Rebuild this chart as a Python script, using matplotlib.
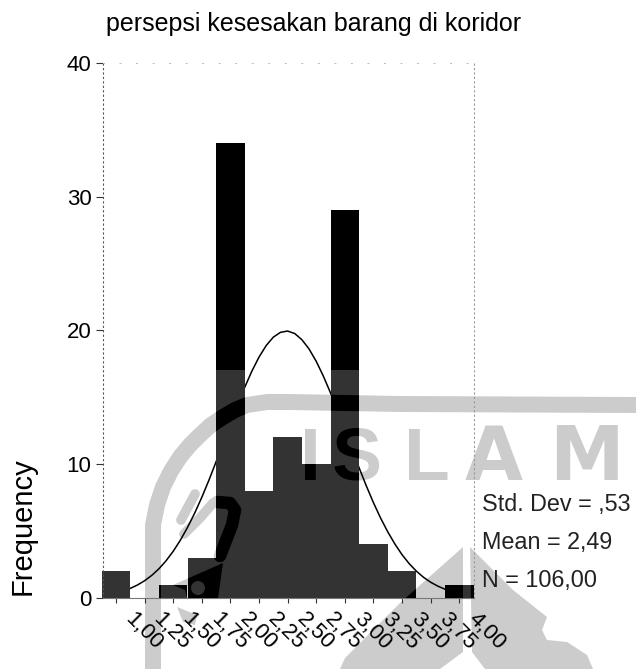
import matplotlib
matplotlib.use("Agg")
import matplotlib.pyplot as plt
import numpy as np
from matplotlib.patches import Polygon, Circle
from matplotlib.path import Path
from matplotlib.transforms import ScaledTranslation, IdentityTransform

plt.rcParams['font.family'] = ['Liberation Sans', 'DejaVu Sans']

W, H = 636, 669
BAR_GREY = "#333333"
WM_GREY = "#cccccc"

bin_centers = [1.00, 1.25, 1.50, 1.75, 2.00, 2.25, 2.50, 2.75, 3.00, 3.25, 3.50, 3.75, 4.00]
frequency = [2, 0, 1, 3, 34, 8, 12, 10, 29, 4, 2, 0, 1]
x_labels = ["1,00", "1,25", "1,50", "1,75", "2,00", "2,25", "2,50", "2,75",
            "3,00", "3,25", "3,50", "3,75", "4,00"]
y_ticks = [0, 10, 20, 30, 40]
stats = ["Std. Dev = ,53", "Mean = 2,49", "N = 106,00"]

# curve
curve_x = [1.0, 1.0625, 1.125, 1.1875, 1.25, 1.3125, 1.375, 1.4375, 1.5, 1.5625, 1.625, 1.6875,
           1.75, 1.8125, 1.875, 1.9375, 2.0, 2.0625, 2.125, 2.1875, 2.25, 2.3125, 2.375, 2.4375,
           2.5, 2.5625, 2.625, 2.6875, 2.75, 2.8125, 2.875, 2.9375, 3.0, 3.0625, 3.125, 3.1875,
           3.25, 3.3125, 3.375, 3.4375, 3.5, 3.5625, 3.625, 3.6875, 3.75, 3.8125, 3.875]
curve_y = [0.38, 0.53, 0.72, 0.97, 1.29, 1.69, 2.18, 2.78, 3.49, 4.32, 5.27, 6.34,
           7.52, 8.81, 10.18, 11.59, 13.0, 14.41, 15.74, 16.95, 18.0, 18.86, 19.49, 19.85,
           19.95, 19.76, 19.3, 18.61, 17.69, 16.58, 15.33, 13.96, 12.56, 11.14, 9.73, 8.39,
           7.13, 5.98, 4.95, 4.04, 3.24, 2.57, 2.01, 1.55, 1.18, 0.89, 0.66]

# the scan is black above this height and dark grey below
scan_break = 17

# watermark outline, in image pixels
ring_x = [153, 153, 153, 157, 163, 171, 180, 190, 200, 211, 223, 235, 247, 267, 290, 400, 636]
ring_y = [669, 560, 525, 505, 487, 471, 457, 445, 435, 425, 417, 410, 405, 402, 402, 404, 405]
roof_left = [(463, 547), (400, 603), (345, 658), (340, 669), (440, 669), (463, 652)]
roof_right = [(470, 547), (513, 590), (547, 617), (542, 630), (547, 640), (567, 642),
              (587, 655), (593, 669), (485, 669), (472, 652)]
mark_pts = [(173, 585), (223, 563), (218, 598), (187, 598), (185, 590)]
under_pts = [(177, 607), (197, 615), (195, 625), (183, 622)]
leaf_x = [195, 181]
leaf_y = [494, 520]
hook_gray_x = [213, 200, 184]
hook_gray_y = [503, 518, 534]
hook_x = [217, 230, 235, 232, 220]
hook_y = [502, 503, 510, 525, 556]
letters = [("I", 310, "Liberation Sans"), ("S", 357, "Liberation Sans"), ("L", 427, "Liberation Sans"),
           ("A", 494, "DejaVu Sans"), ("M", 586, "DejaVu Sans")]

fig = plt.figure(figsize=(W / 100, H / 100), dpi=100, facecolor="white")


def draw_marks(a, color, clip=None):
    arts = []
    arts += a.plot(ring_x, ring_y, color=color, lw=11.5, solid_capstyle="butt")
    arts += a.plot(leaf_x, leaf_y, color=color, lw=7, solid_capstyle="round")
    arts += a.plot(hook_gray_x, hook_gray_y, color=color, lw=7, solid_capstyle="round")
    arts += a.plot(hook_x, hook_y, color=color, lw=9, solid_capstyle="round")
    for pts in [roof_left, roof_right, mark_pts, under_pts]:
        arts.append(a.add_patch(Polygon(pts, closed=True, fc=color, ec="none")))
    if clip is not None:
        for art in arts:
            art.set_clip_path(clip, IdentityTransform())
    return arts


# watermark under everything
wm = fig.add_axes([0, 0, 1, 1], zorder=0)
wm.set_xlim(0, W)
wm.set_ylim(H, 0)
wm.axis("off")
draw_marks(wm, WM_GREY)
for ch, px, fam in letters:
    wm.text(px, 480, ch, color=WM_GREY, fontsize=54, fontweight="bold", family=fam,
            ha="center", va="baseline")

left, right, top, bottom = 102.5, 474.5, 62.7, 598
ax = fig.add_axes([left / W, 1 - bottom / H, (right - left) / W, (bottom - top) / H], zorder=1)
ax.patch.set_alpha(0)

ax.plot(curve_x, curve_y, color="black", lw=1.1, zorder=1, clip_on=False)
bars = ax.bar(bin_centers, frequency, width=0.25, color=BAR_GREY, linewidth=0, zorder=2, clip_on=False)
over = np.clip(np.array(frequency) - scan_break, 0, None)
ax.bar(bin_centers, over, width=0.25, bottom=scan_break, color="black", linewidth=0, zorder=3)

ax.set_xlim(1 + (left - 116) / 28.6 * 0.25, 1 + (right - 116) / 28.6 * 0.25)
ax.set_ylim(0, 40)

ax.set_yticks(y_ticks)
ax.set_xticks(bin_centers)
ax.set_xticklabels(x_labels, rotation=-45, ha="left", va="center", rotation_mode="anchor")
ax.tick_params(axis="y", length=5, width=0.8, color="#333333", labelsize=16, pad=3)
ax.tick_params(axis="x", length=3.5, width=0.8, color="#333333", labelsize=16, pad=0)
offset = ScaledTranslation(12 / 100, -13 / 100, fig.dpi_scale_trans)
for lab in ax.get_xticklabels():
    lab.set_transform(lab.get_transform() + offset)

ax.spines["left"].set(linestyle=(0, (1, 3)), linewidth=0.8, color="#555555")
ax.spines["right"].set(linestyle=(0, (1, 3)), linewidth=0.8, color="#999999")
ax.spines["top"].set(linestyle=(0, (1, 16)), linewidth=0.7, color="#bbbbbb")
ax.spines["bottom"].set(linewidth=0.8, color="#777777")

# black where the watermark falls on a bar
fig.canvas.draw()
bar_clip = Path.make_compound_path(*[b.get_path().transformed(b.get_transform()) for b in bars if b.get_height() > 0])
wm2 = fig.add_axes([0, 0, 1, 1], zorder=2)
wm2.set_xlim(0, W)
wm2.set_ylim(H, 0)
wm2.axis("off")
draw_marks(wm2, "black", clip=bar_clip)
for ch, px, fam in letters[:2]:
    t = wm2.text(px, 480, ch, color="black", fontsize=54, fontweight="bold", family=fam,
                 ha="center", va="baseline")
    t.set_clip_on(True)
    t.set_clip_box(bars[7 if ch == "I" else 8].get_window_extent())
hole = wm2.add_patch(Circle((198, 588), 7, fc=BAR_GREY, ec="none"))

for s, py in zip(stats, [504, 543, 580]):
    fig.text(482 / W, 1 - py / H, s, fontsize=16.8, color="#222222", ha="left", va="center", zorder=5)

fig.text(314 / W, 1 - 24 / H, "persepsi kesesakan barang di koridor", fontsize=18, color="black",
         ha="center", va="center")
fig.text(23 / W, 1 - 526 / H, "Frequency", fontsize=21, color="black", rotation=90,
         ha="center", va="center")

fig.savefig("out.png", dpi=100)
